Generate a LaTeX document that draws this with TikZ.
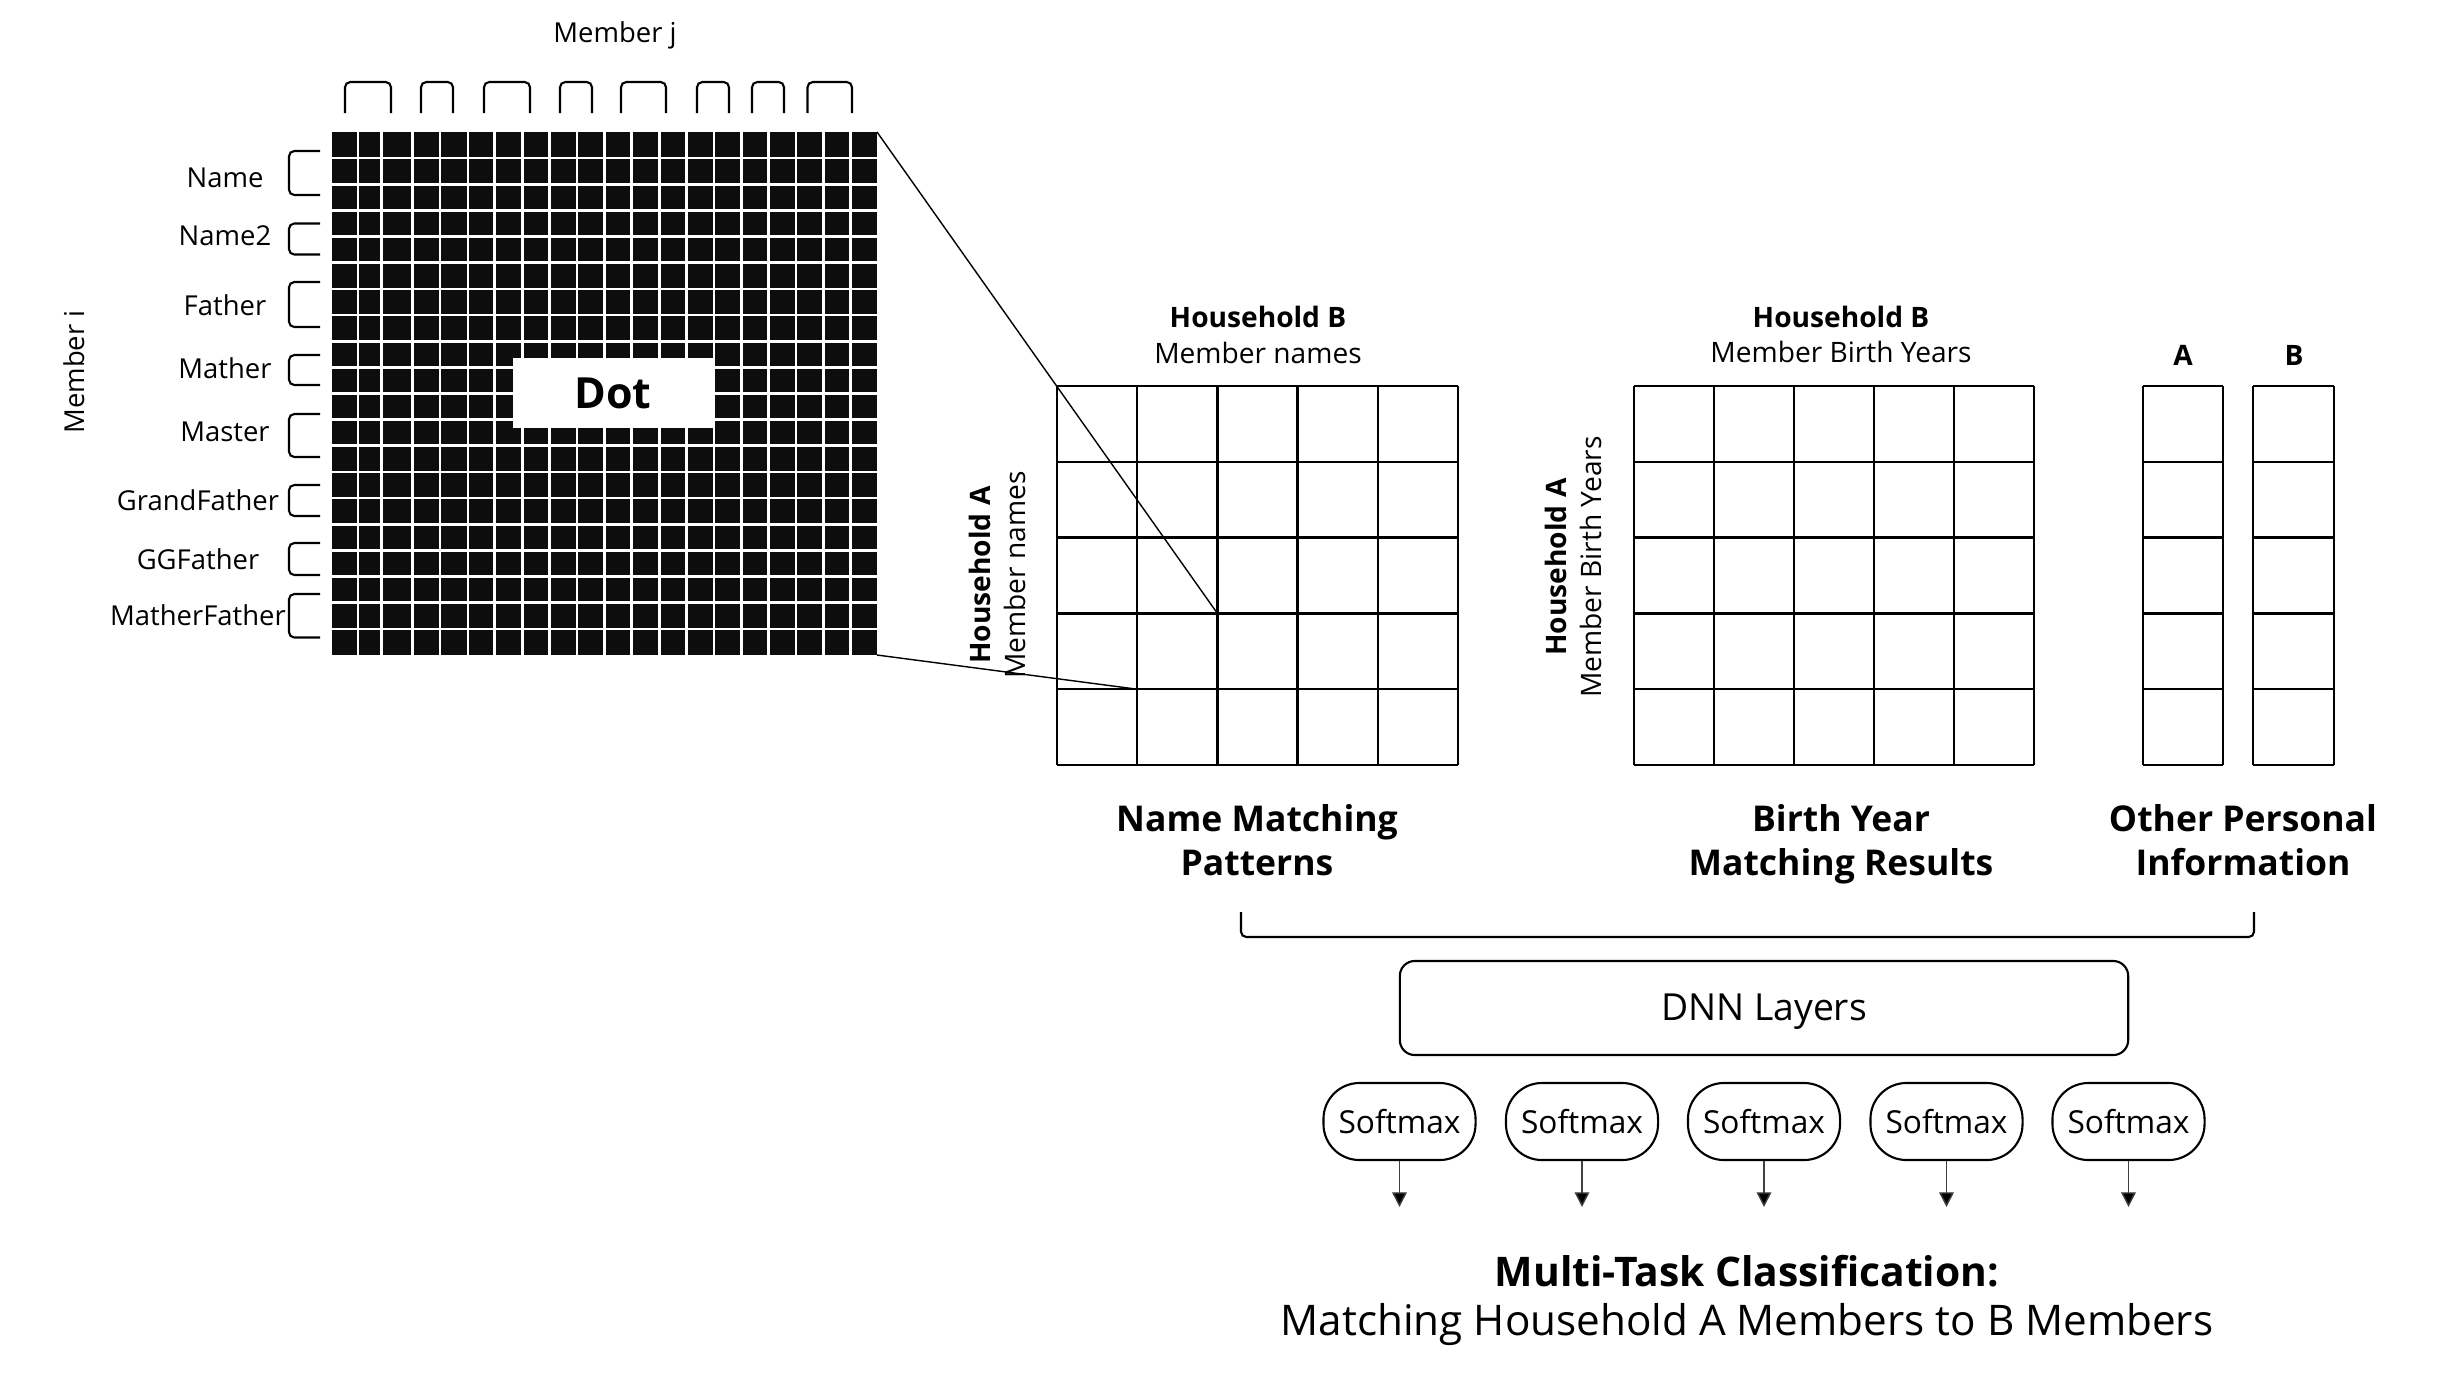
\documentclass[tikz,border=0pt]{standalone}
\usepackage{fontspec}
\setmainfont{Open Sans}
\usetikzlibrary{arrows.meta}
\begin{document}
\begin{tikzpicture}[x=0.01cm,y=-0.01cm,
  lbl/.style={font=\fontsize{7.8}{9}\selectfont, inner sep=0pt},
  hh/.style={font=\fontsize{8}{10}\selectfont, inner sep=0pt},
  hhb/.style={font=\fontsize{8}{10}\selectfont\bfseries, inner sep=0pt},
  cat/.style={font=\fontsize{10.1}{12.5}\selectfont\bfseries, align=center, inner sep=0pt},
  gridline/.style={line width=0.65pt},
  brk/.style={line width=0.6pt, rounded corners=1.5pt},
  thinline/.style={line width=0.4pt},
  softbox/.style={draw, line width=0.6pt, rounded corners=0.36cm, minimum width=1.52cm, minimum height=0.77cm, font=\fontsize{9}{11}\selectfont, inner sep=0pt},
  outarrow/.style={line width=0.4pt, draw=black!75, -{Triangle[length=4.2pt,width=4.2pt,fill=black]}},
]
\useasboundingbox (0,0) rectangle (2463,1393);

% ---------- black dot-product grid ----------
\fill[black!95] (332,132) rectangle (877,655);
\foreach \x in {358,381.7,412.4,440,467.9,494.8,522.4,549.5,577,604.6,631.5,659.2,686.5,714,741.5,768.5,795.9,823.2,850.7}
  \draw[white, line width=0.75pt] (\x,132) -- (\x,655);
\foreach \i in {1,...,19}
  \draw[white, line width=0.75pt] (332,{132+\i*26.15}) -- (877,{132+\i*26.15});
\coordinate (bTR) at (877,132);
\coordinate (bBR) at (877,655);
\node[fill=white, minimum width=2cm, minimum height=0.7cm, inner sep=0pt, font=\fontsize{12.2}{14}\selectfont\bfseries] (dot) at (613,393) {Dot};

% top brackets
\foreach \a/\b in {345/391,421/453,484/530,560/592,621/666,697/729,752/784,807.5/852}
  \draw[brk] (\a,113) -- (\a,82) -- (\b,82) -- (\b,113);
\node[lbl] (memj) at (615,35) {Member j};

% left brackets
\foreach \t/\bb in {151/195,223.5/254.5,282/327,355/385,414/457,485/516,543/575,594/637.5}
  \draw[brk] (320,\t) -- (289,\t) -- (289,\bb) -- (320,\bb);
\node[lbl] (l1) at (225,178) {Name};
\node[lbl] (l2) at (225,236) {Name2};
\node[lbl] (l3) at (225,305) {Father};
\node[lbl] (l4) at (225,368) {Mather};
\node[lbl] (l5) at (225,432) {Master};
\node[lbl] (l6) at (198,500) {GrandFather};
\node[lbl] (l7) at (198,559) {GGFather};
\node[lbl] (l8) at (198,615) {MatherFather};
\node[lbl, rotate=90] (memi) at (74,372) {Member i};

% ---------- name matching grid ----------
\foreach \x in {1057,1137.2,1217.4,1297.6,1377.8,1458}
  \draw[gridline] (\x,386) -- (\x,765);
\foreach \y in {386,461.8,537.6,613.4,689.2,765}
  \draw[gridline] (1057,\y) -- (1458,\y);
\coordinate (nA) at (1217.4,613.4);
\coordinate (nB) at (1137.2,689.2);
\draw[thinline] (bTR) -- (nA);
\draw[thinline] (bBR) -- (nB);
\node[hhb] (nhb) at (1258,317) {Household B};
\node[hh] (nmn) at (1258,353) {Member names};
\node[hhb, rotate=90] (nha) at (980,575) {Household A};
\node[hh, rotate=90] (nma) at (1015,575) {Member names};
\node[cat] (ncat) at (1257,840) {Name Matching\\Patterns};

% ---------- birth year grid ----------
\foreach \x in {1634,1714,1794,1874,1954,2034}
  \draw[gridline] (\x,386) -- (\x,765);
\foreach \y in {386,461.8,537.6,613.4,689.2,765}
  \draw[gridline] (1634,\y) -- (2034,\y);
\node[hhb] (bhb) at (1841,317) {Household B};
\node[hh] (bmb) at (1841,352) {Member Birth Years};
\node[hhb, rotate=90] (bha) at (1556,567) {Household A};
\node[hh, rotate=90] (bma) at (1591,567) {Member Birth Years};
\node[cat] (bcat) at (1841,844) {Birth Year\\Matching Results};

% ---------- other information columns ----------
\foreach \l/\r in {2143/2223,2253/2334}{
  \draw[gridline] (\l,386) -- (\l,765);
  \draw[gridline] (\r,386) -- (\r,765);
  \foreach \y in {386,461.8,537.6,613.4,689.2,765}
    \draw[gridline] (\l,\y) -- (\r,\y);
}
\node[hhb] (colA) at (2183,355) {A};
\node[hhb] (colB) at (2294,355) {B};
\node[cat] (ocat) at (2243,840) {Other Personal\\Information};

% ---------- brace ----------
\draw[brk] (1241,912) -- (1241,937) -- (2254,937) -- (2254,912);

% ---------- DNN ----------
\node[draw, line width=0.6pt, rounded corners=0.15cm, minimum width=7.28cm, minimum height=0.94cm, inner sep=0pt, text depth=0.5pt, font=\fontsize{10.6}{12}\selectfont] (dnn) at (1764,1008) {DNN Layers};

\foreach \n/\x in {1/1399.5,2/1582,3/1764,4/1946.5,5/2128.5}{
  \node[softbox] (s\n) at (\x,1121.5) {Softmax};
  \coordinate (o\n) at (\x,1207);
  \draw[outarrow] (s\n.south) -- (o\n);
}

\node[inner sep=0pt, font=\fontsize{11.6}{14}\selectfont\bfseries] (mt) at (1747,1271) {Multi-Task Classification:};
\node[inner sep=0pt, font=\fontsize{12}{14}\selectfont] (mt2) at (1747,1325) {Matching Household A Members to B Members};
\end{tikzpicture}
\end{document}
